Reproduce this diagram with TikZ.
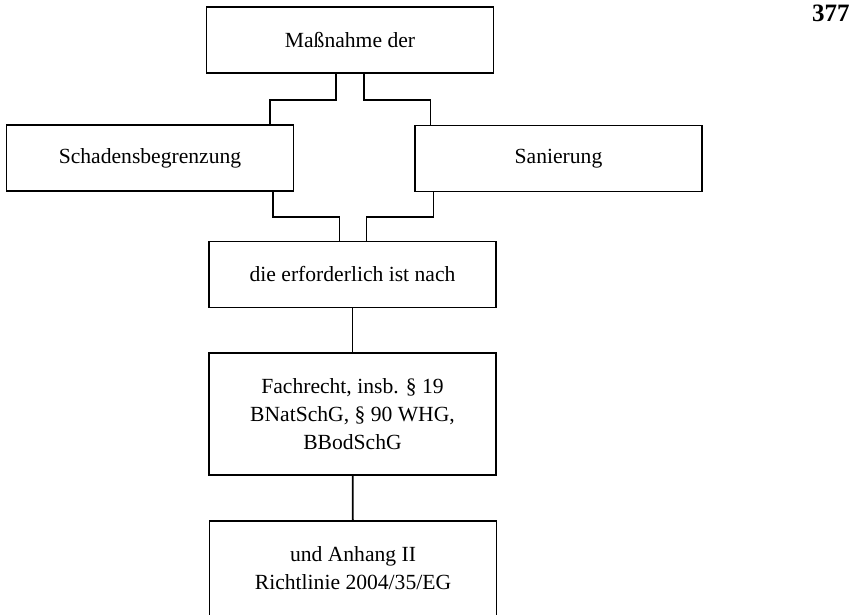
\documentclass[tikz,border=0pt]{standalone}
\usepackage{fontspec}
\setmainfont{Liberation Serif}
\usetikzlibrary{positioning,calc}

\tikzset{
  kasten/.style={draw, line width=0.9pt, minimum width=143.5pt, minimum height=33pt,
    inner sep=0pt, align=center, font=\fontsize{10.8}{14}\selectfont},
  verbinder/.style={line width=0.9pt}
}

\begin{document}
\begin{tikzpicture}[x=0.5pt,y=-0.5pt]
      \useasboundingbox (0,0) rectangle (854,614);
      \clip (0,0) rectangle (854,614);

      % Seitenzahl
      \node[anchor=base east, inner sep=0pt, font=\fontsize{12.5}{14}\selectfont\bfseries] (seite) at (850,22) {377};

      % obere Ebene
      \node[kasten] (massnahme) at (350,40) {Maßnahme der};
      \node[kasten] (schaden) at (150,158) {Schadensbegrenzung};
      \node[kasten] (sanierung) at (558.5,158.5) {Sanierung};

      \draw[verbinder] ([xshift=-7pt]massnahme.south) -- ++(0,26) -| ([xshift=60pt]schaden.north);
      \draw[verbinder] ([xshift=7pt]massnahme.south) -- ++(0,26) -| ([xshift=-64pt]sanierung.north);

      % mittlere Ebene
      \node[kasten] (erforderlich) at (352.5,274.5) {die erforderlich ist nach};

      \draw[verbinder] ([xshift=61.5pt]schaden.south) -- ++(0,25) -| ([xshift=-6.5pt]erforderlich.north);
      \draw[verbinder] ([xshift=-62.5pt]sanierung.south) -- ++(0,25) -| ([xshift=7pt]erforderlich.north);

      % untere Ebene
      \node[kasten, minimum height=61pt] (fachrecht) at (352.5,414) {Fachrecht, insb. § 19\\BNatSchG, § 90 WHG,\\BBodSchG};
      \node[kasten, minimum height=47.5pt] (anhang) at (353,568.5) {und Anhang II\\Richtlinie 2004/35/EG};

      \draw[verbinder] (erforderlich) -- (fachrecht);
      \draw[verbinder] (fachrecht) -- (anhang);
    \end{tikzpicture}
\end{document}
